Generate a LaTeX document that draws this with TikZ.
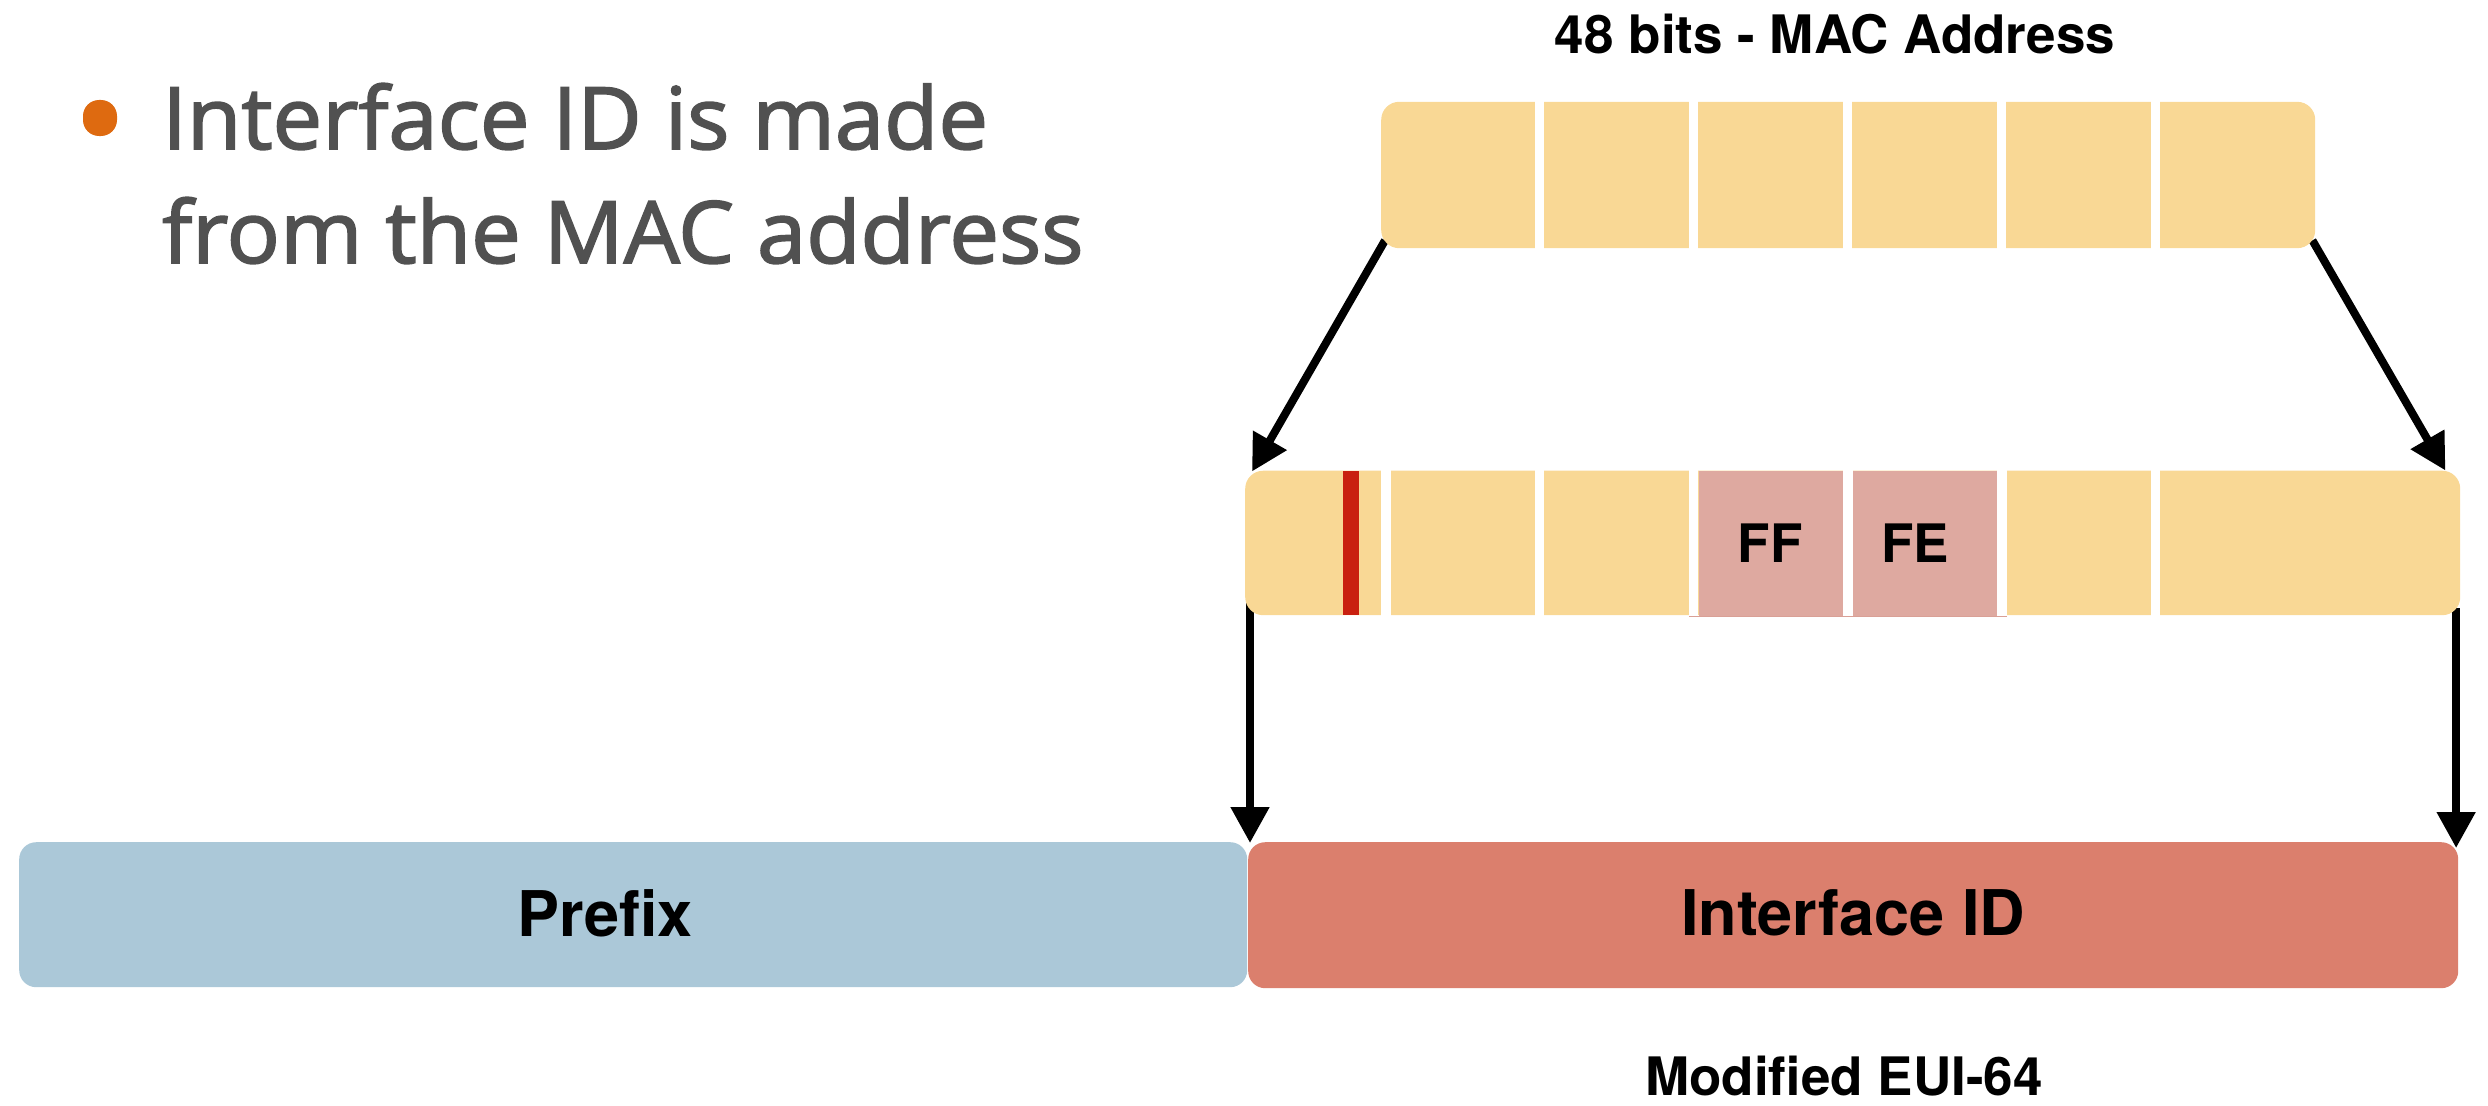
\documentclass[tikz,border=0pt]{standalone}
\usepackage{fontspec}
\setmainfont{Open Sans}
\newfontfamily\osb{Open Sans}[FakeBold=2, FakeStretch=1.03]
\newfontfamily\hv{TeX Gyre Heros}
\usetikzlibrary{arrows.meta,calc}
\definecolor{macY}{HTML}{F9D895}
\definecolor{pinkC}{HTML}{DEA9A0}
\definecolor{pinkL}{HTML}{D9A096}
\definecolor{redB}{HTML}{C9200F}
\definecolor{preB}{HTML}{ABC8D8}
\definecolor{ifC}{HTML}{DB7F6D}
\definecolor{bul}{HTML}{DE6A10}
\definecolor{txtG}{HTML}{515151}
\pgfdeclarelayer{bg}
\pgfsetlayers{bg,main}
\begin{document}
\begin{tikzpicture}[x=1pt,y=-1pt,
  bar/.style={fill=macY, rounded corners=18pt, inner sep=0, anchor=north west},
  field/.style={rounded corners=17pt, inner sep=0, anchor=north west},
  gapbar/.style={fill=white},
  lbl/.style={font=\hv\bfseries\fontsize{53}{60}\selectfont, text=black, inner sep=0, anchor=base},
  big/.style={font=\hv\bfseries\fontsize{63}{70}\selectfont, text=black, inner sep=0, anchor=base},
  bullettext/.style={font=\osb\fontsize{86}{114}\selectfont, text=txtG, inner sep=0, anchor=base west},
  conn/.style={line width=8pt, -{Triangle[length=36pt,width=37pt]}}
]
\useasboundingbox (0,0) rectangle (2488,1105);

% bullet text
\fill[bul, rounded corners=16pt] (83,100) rectangle (117,136);
\node[bullettext] (l1) at (162,149) {Interface ID is made};
\node[bullettext] (l2) at (162,263) {from the MAC address};

% MAC address bar
\node[lbl] (title) at (1835,54) {48 bits - MAC Address};
\node[bar, minimum width=934pt, minimum height=146.4pt] (mac) at (1381,101.6) {};
\foreach \a/\b in {1535/1544,1689/1698,1843/1852,1997/2006,2151/2160}
  \fill[gapbar] (\a,99) rectangle (\b,251);

% EUI-64 bar
\node[bar, minimum width=1215pt, minimum height=144.5pt] (eui) at (1245,470.5) {};
\foreach \a/\b in {1381/1391,1535/1544,1689/1698,1843/1853,1997/2007,2151/2160}
  \fill[gapbar] (\a,468) rectangle (\b,619);
\fill[redB] (1343,470.5) rectangle (1359,615);
\fill[pinkC] (1699,470.5) rectangle (1842.5,616.7);
\fill[pinkC] (1853,470.5) rectangle (1996.7,616.7);
\draw[pinkL, line width=1.2pt] (1689,616.8) -- (2007,616.8);
\node[lbl] (ff) at (1770,562) {FF};
\node[lbl] (fe) at (1915,562) {FE};

% Prefix / Interface ID
\node[field, fill=preB, minimum width=1228pt, minimum height=145pt] (prefix) at (19,842) {};
\node[field, fill=ifC, minimum width=1210pt, minimum height=146pt] (iid) at (1248,842) {};
\node[big] (pl) at (605,936) {Prefix};
\node[big] (il) at (1853,935) {Interface ID};
\node[lbl] (eui64) at (1844,1095) {Modified EUI-64};

% arrows
\begin{pgfonlayer}{bg}
\draw[conn] ($(mac.south west)+(4,-8)$) -- ($(eui.north west)+(7,1)$);
\draw[conn] ($(mac.south east)+(-3,-8)$) -- ($(eui.north east)+(-15,0)$);
\draw[conn] ($(eui.south west)+(5,-12)$) -- ($(iid.north west)+(2,1)$);
\draw[conn] ($(eui.south east)+(-4.3,-7)$) -- ($(iid.north east)+(-2.3,6)$);
\end{pgfonlayer}
\end{tikzpicture}
\end{document}
